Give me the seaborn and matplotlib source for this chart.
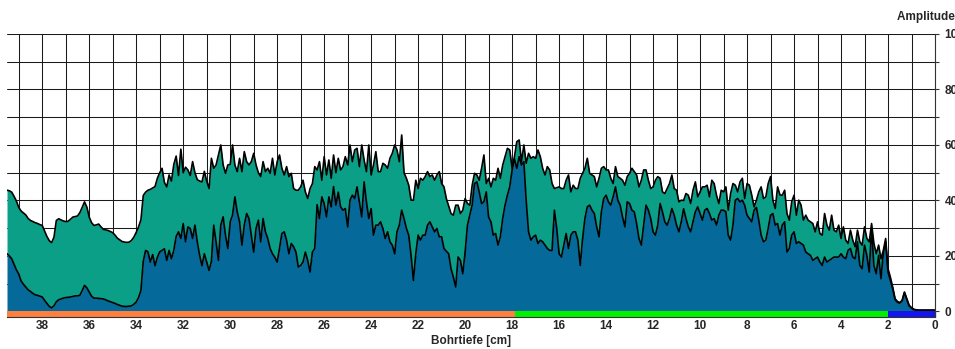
import numpy as np
import pandas as pd
import matplotlib
matplotlib.use("Agg")
import matplotlib.pyplot as plt
import seaborn as sns

# Amplitude profiles along the core, one value every 0.1 cm from 39.5 cm down to 0 cm
amp_upper = [
    43.7, 43.5, 43.0, 41.5, 39.8, 37.5,
    36.2, 35.5, 34.8, 33.5, 32.8, 32.4, 32.0, 31.7, 31.3, 31.0,
    29.0, 27.0, 25.5, 24.8, 26.8, 32.8, 33.4, 33.0, 32.6, 32.4,
    32.5, 33.2, 34.0, 34.2, 34.4, 35.6, 37.5, 39.5, 37.6, 34.0,
    32.0, 31.0, 31.2, 31.5, 30.5, 29.6, 29.4, 29.2, 28.8, 28.4,
    27.5, 26.4, 25.8, 25.2, 25.0, 24.9, 25.0, 25.6, 26.8, 28.5,
    30.5, 33.0, 41.8, 43.0, 43.7, 44.0, 44.5, 45.0, 48.0, 50.0,
    51.6, 46.5, 44.9, 49.2, 47.0, 53.0, 56.0, 49.0, 58.5, 50.0,
    52.0, 51.0, 49.0, 54.0, 50.0, 47.5, 47.0, 46.7, 50.5, 47.0,
    44.3, 55.2, 51.6, 52.8, 56.4, 60.0, 52.8, 49.8, 52.8, 53.0,
    60.0, 52.8, 50.4, 55.2, 50.4, 57.6, 54.0, 52.8, 54.0, 57.0,
    52.8, 50.0, 48.6, 54.0, 50.4, 51.6, 49.8, 55.2, 49.2, 54.0,
    56.4, 51.6, 49.2, 52.2, 48.6, 49.8, 44.3, 43.7, 43.7, 44.9,
    47.3, 43.1, 40.7, 44.3, 46.1, 52.2, 51.0, 54.0, 47.3, 55.8,
    49.2, 54.6, 48.0, 56.4, 50.0, 55.2, 51.0, 52.2, 55.8, 52.8,
    60.0, 54.0, 58.2, 58.8, 52.2, 60.0, 54.6, 50.4, 60.0, 49.2,
    52.8, 57.6, 50.4, 50.4, 53.4, 52.8, 51.6, 55.2, 57.0, 60.0,
    58.2, 54.0, 63.6, 50.0, 48.0, 45.5, 40.1, 40.1, 47.3, 44.3,
    48.0, 47.3, 48.6, 50.4, 48.6, 49.2, 47.3, 49.2, 50.4, 46.1,
    44.9, 40.7, 38.0, 35.3, 34.7, 38.3, 38.3, 35.3, 36.5, 40.7,
    38.9, 38.3, 45.5, 49.8, 49.2, 47.3, 51.6, 56.4, 46.1, 48.0,
    44.9, 48.0, 47.3, 51.6, 48.0, 52.8, 55.8, 58.8, 58.2, 51.6,
    55.8, 61.2, 61.8, 54.0, 60.0, 53.4, 57.0, 55.2, 55.8, 55.2,
    58.2, 55.8, 51.6, 49.2, 52.2, 51.0, 46.1, 44.3, 44.6, 44.9,
    44.3, 44.3, 47.3, 49.2, 43.1, 45.5, 44.3, 44.3, 48.0, 49.8,
    51.6, 55.2, 49.8, 49.2, 48.6, 44.9, 48.0, 51.6, 52.2, 51.0,
    51.0, 48.0, 46.1, 52.2, 48.6, 48.0, 47.3, 45.5, 48.6, 49.8,
    51.6, 50.4, 49.2, 44.9, 47.3, 51.0, 51.0, 47.3, 44.3, 44.9,
    47.3, 48.6, 48.0, 43.1, 42.5, 44.3, 46.1, 49.2, 44.3, 43.7,
    39.5, 40.1, 40.0, 42.5, 41.9, 38.9, 43.7, 46.7, 41.3, 43.1,
    44.9, 44.9, 45.5, 41.3, 47.3, 46.1, 41.9, 38.9, 43.7, 43.1,
    44.9, 36.5, 42.5, 46.1, 45.5, 43.1, 46.7, 48.0, 40.7, 46.1,
    45.5, 41.9, 37.7, 40.1, 43.1, 44.9, 40.7, 41.3, 46.1, 48.6,
    40.1, 37.1, 44.9, 42.0, 41.9, 43.7, 35.3, 32.9, 39.5, 41.9,
    34.7, 40.1, 38.3, 32.9, 34.7, 32.9, 32.3, 31.7, 28.7, 32.3,
    28.1, 27.5, 35.3, 31.1, 29.3, 34.7, 29.3, 28.7, 31.1, 26.3,
    30.5, 25.7, 24.5, 29.3, 25.7, 23.3, 29.3, 25.1, 23.9, 30.5,
    26.3, 25.1, 31.7, 24.5, 20.8, 23.9, 19.0, 22.0, 26.3, 15.4,
    12.4, 8.8, 4.6, 3.6, 3.2, 4.0, 7.0, 4.6, 2.2, 1.4,
    0.8, 0.6, 0.5, 0.5, 0.5, 0.5, 0.5, 0.5, 0.5, 0.5,
]

amp_lower = [
    20.8, 20.0, 19.0, 17.0, 15.0, 13.5,
    11.0, 9.8, 8.8, 7.8, 7.2, 6.5, 6.0, 5.8, 5.5, 5.2,
    4.0, 2.9, 1.8, 1.3, 2.0, 3.5, 4.2, 4.5, 4.8, 5.0,
    5.1, 5.2, 5.4, 5.6, 5.6, 5.8, 7.5, 9.4, 8.5, 7.0,
    5.5, 4.8, 4.8, 4.7, 4.6, 4.5, 4.2, 3.8, 3.5, 3.2,
    2.9, 2.5, 2.2, 1.9, 1.8, 1.8, 1.9, 2.0, 2.6, 3.4,
    5.0, 7.5, 18.0, 22.0, 21.5, 17.8, 20.5, 16.5, 19.5, 21.5,
    22.0, 22.6, 18.4, 22.0, 19.0, 22.0, 27.0, 28.7, 26.3, 31.7,
    25.1, 30.5, 29.9, 26.3, 31.1, 25.1, 20.2, 16.5, 20.8, 17.8,
    14.8, 18.0, 31.1, 25.1, 18.4, 31.1, 34.1, 27.5, 22.7, 32.3,
    34.7, 41.3, 35.9, 32.3, 23.9, 31.1, 35.3, 33.5, 27.5, 21.4,
    29.9, 32.9, 25.1, 33.5, 28.7, 26.3, 22.7, 20.8, 19.5, 17.8,
    22.7, 28.1, 28.7, 25.7, 20.8, 24.5, 23.3, 21.4, 16.0, 16.6,
    17.8, 21.4, 18.4, 14.2, 21.4, 22.7, 38.5, 33.5, 41.3, 38.9,
    34.1, 41.3, 37.7, 45.0, 38.3, 43.0, 37.7, 36.5, 37.1, 30.5,
    40.1, 41.9, 40.7, 44.9, 39.5, 34.1, 46.7, 39.5, 33.5, 37.1,
    27.5, 31.1, 31.1, 32.3, 29.9, 26.3, 28.7, 25.1, 23.9, 20.8,
    28.7, 31.1, 36.5, 33.5, 30.0, 27.5, 20.2, 11.2, 20.8, 27.5,
    25.7, 27.5, 27.5, 31.1, 32.3, 30.5, 28.7, 29.9, 26.9, 26.9,
    22.7, 21.7, 20.8, 15.4, 12.4, 8.8, 19.6, 18.4, 13.6, 21.4,
    31.1, 34.7, 38.3, 46.1, 46.7, 43.1, 38.9, 39.5, 43.1, 34.0,
    32.3, 27.5, 28.1, 23.9, 26.9, 33.5, 38.3, 41.9, 44.9, 51.0,
    55.0, 51.6, 55.8, 52.8, 54.0, 40.0, 28.7, 25.7, 26.9, 27.5,
    24.5, 25.7, 25.1, 23.9, 22.7, 22.0, 22.0, 36.5, 29.9, 20.8,
    19.6, 23.9, 28.1, 22.7, 27.5, 28.7, 28.7, 25.7, 16.6, 26.3,
    33.5, 37.7, 38.3, 36.5, 35.3, 30.5, 26.9, 35.9, 40.7, 41.9,
    39.5, 38.3, 41.3, 44.9, 40.1, 38.3, 34.1, 30.5, 39.5, 38.9,
    36.5, 35.9, 31.7, 26.3, 23.9, 31.1, 38.3, 36.5, 33.5, 28.7,
    27.5, 31.1, 38.9, 35.9, 32.3, 31.1, 33.5, 37.1, 34.7, 31.1,
    28.7, 32.3, 37.0, 33.5, 30.5, 28.7, 32.3, 35.9, 37.7, 35.3,
    32.9, 36.5, 37.1, 35.3, 32.9, 33.5, 31.1, 34.7, 36.5, 36.5,
    35.9, 27.5, 25.7, 31.1, 40.1, 40.7, 39.5, 40.1, 38.3, 34.7,
    33.5, 32.3, 36.5, 37.5, 32.9, 27.5, 25.1, 25.7, 29.9, 34.7,
    35.3, 31.1, 31.7, 27.5, 31.1, 32.3, 21.4, 22.7, 27.5, 28.7,
    24.5, 25.1, 24.5, 23.9, 21.4, 20.8, 20.2, 18.4, 19.0, 19.6,
    17.8, 16.6, 19.6, 17.8, 18.4, 19.0, 19.6, 19.6, 19.6, 20.8,
    19.6, 19.0, 22.0, 22.7, 19.6, 19.0, 25.1, 16.6, 15.4, 23.9,
    20.2, 14.2, 30.0, 16.6, 13.6, 20.2, 11.8, 21.0, 25.0, 14.2,
    11.2, 8.2, 4.3, 3.3, 3.0, 3.8, 6.8, 4.4, 2.0, 1.2,
    0.6, 0.5, 0.4, 0.4, 0.4, 0.4, 0.4, 0.4, 0.4, 0.4,
]

if len(amp_upper) != len(amp_lower):
    raise ValueError("profile lengths differ")

depth = np.round(39.5 - 0.1 * np.arange(len(amp_upper)), 1)

# Zone bar beneath the profiles
zone_start = [39.5, 17.87, 2.0]
zone_end = [17.87, 2.0, 0.0]
zone_colors = ["#FF7F3F", "#00F000", "#1414EE"]

x_tick_values = list(range(38, -1, -2))
y_tick_values = list(range(0, 101, 20))

df = pd.DataFrame({
    "depth": np.concatenate([depth, depth]),
    "amplitude": np.concatenate([amp_upper, amp_lower]),
    "profile": ["upper"] * len(depth) + ["lower"] * len(depth),
})

sns.set_theme(style="white")
plt.rcParams["font.family"] = ["Liberation Sans", "DejaVu Sans"]

fig = plt.figure(figsize=(9.55, 3.49), dpi=100)
ax = fig.add_axes([7 / 955, 32 / 349, 928 / 955, 283 / 349])
ax.set_xlim(39.5, 0)
ax.set_ylim(-2, 100)

# grid behind the filled areas
for xv in range(0, 40):
    ax.axvline(xv, color="#1a1a1a", lw=0.75, zorder=0.5)
for yv in range(0, 101, 10):
    ax.axhline(yv, color="#1a1a1a", lw=0.75, zorder=0.5)

teal = "#0B9F87"
blue = "#05699A"
ax.fill_between(depth, 0, amp_lower, color=blue, lw=0, zorder=1)
ax.fill_between(depth, amp_lower, amp_upper, color=teal, lw=0, zorder=1)

sns.lineplot(data=df, x="depth", y="amplitude", units="profile", estimator=None,
             sort=False, color="black", lw=1.2, ax=ax, zorder=1.2, legend=False)

for s, e, c in zip(zone_start, zone_end, zone_colors):
    ax.fill_between([s, e], -2, 0, color=c, lw=0, zorder=1.3)

# axes styling
for side in ["left", "top"]:
    ax.spines[side].set_visible(False)
for side in ["right", "bottom"]:
    ax.spines[side].set_visible(True)
    ax.spines[side].set_color("#333333")
    ax.spines[side].set_linewidth(0.8)

ax.set_xticks(x_tick_values)
ax.set_xticklabels([str(v) for v in x_tick_values], fontweight="bold", fontsize=8.5)
ax.set_xticks(list(range(1, 40, 2)), minor=True)
ax.tick_params(axis="x", which="both", direction="in", length=4, width=0.9,
               color="#222222", pad=2, bottom=True)

ax.yaxis.tick_right()
ax.set_yticks(y_tick_values)
ax.set_yticklabels([str(v) for v in y_tick_values], fontweight="bold", fontsize=8.5)
ax.set_yticks(list(range(10, 100, 20)), minor=True)
ax.tick_params(axis="y", which="both", direction="out", length=3, width=0.8,
               color="#333333", pad=4, right=True, left=False)

ax.set_xlabel("Bohrtiefe [cm]", fontweight="bold", fontsize=8.5, labelpad=2)
ax.set_ylabel("")
fig.text(897 / 955, 1 - 17 / 349, "Amplitude [%]", fontweight="bold", fontsize=8.5,
         ha="left", va="center")

fig.savefig("out.png", dpi=100)
